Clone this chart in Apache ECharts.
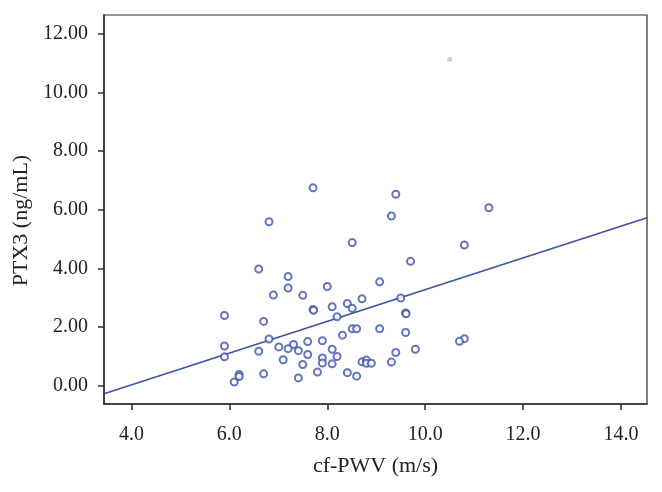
<!DOCTYPE html>
<html>
<head>
<meta charset="utf-8">
<script src="https://cdn.jsdelivr.net/npm/echarts@6/dist/echarts.min.js"></script>
<style>
  html, body { margin: 0; padding: 0; background: #fff; }
  #chart { width: 662px; height: 492px; }
</style>
</head>
<body>
<div id="chart"></div>
<script>
// cf-PWV (m/s) vs PTX3 (ng/mL)
const pwv = [
  7.71, 6.81, 8.51, 6.60, 7.20, 7.20, 8.00, 6.90, 7.50, 8.71,
  7.71, 7.72, 8.10, 8.41, 8.51, 8.20, 5.90, 6.70, 8.51, 8.60,
  9.07, 9.07, 8.31, 6.81, 7.90, 7.60, 5.90, 7.01, 7.31, 7.20,
  7.41, 6.60, 8.10, 7.60, 8.20, 7.90, 5.90, 7.10, 7.90, 7.50,
  8.10, 8.71, 8.80, 8.80, 8.90, 7.80, 8.41, 6.70, 8.60, 7.41,
  6.20, 6.20, 6.10, 9.40, 9.31, 11.30, 10.80, 9.70, 9.50, 9.60,
  9.61, 9.60, 10.80, 10.70, 9.80, 9.40, 9.31
];
const ptx3 = [
  6.75, 5.59, 4.88, 3.98, 3.72, 3.33, 3.38, 3.09, 3.08, 2.96,
  2.60, 2.57, 2.69, 2.80, 2.64, 2.35, 2.39, 2.19, 1.94, 1.94,
  1.94, 3.54, 1.72, 1.59, 1.53, 1.50, 1.35, 1.32, 1.40, 1.26,
  1.19, 1.17, 1.24, 1.06, 0.99, 0.94, 0.98, 0.88, 0.77, 0.72,
  0.74, 0.81, 0.87, 0.76, 0.76, 0.46, 0.44, 0.40, 0.32, 0.26,
  0.38, 0.31, 0.12, 6.53, 5.79, 6.07, 4.80, 4.24, 2.99, 2.48,
  2.45, 1.81, 1.60, 1.51, 1.24, 1.13, 0.80
];
// excluded case (grey dot)
const outlier = [[10.50, 11.14]];
// fitted line end points at the plot edges
const fitLine = [[3.44, -0.28], [14.53, 5.73]];

const xTicks = [4, 6, 8, 10, 12, 14];
const yTicks = [0, 2, 4, 6, 8, 10, 12];

const blue = '#3f52a8';
const axisColor = '#2b2b2b';
const font = '"Liberation Serif", "DejaVu Serif", serif';

const chart = echarts.init(document.getElementById('chart'));

const option = {
  animation: false,
  backgroundColor: '#fff',
  textStyle: { fontFamily: font },
  grid: {
    left: 104,
    right: 15,
    top: 15,
    bottom: 88,
    show: true,
    borderColor: axisColor,
    borderWidth: 1.2,
    backgroundColor: '#fff'
  },
  xAxis: {
    type: 'value',
    min: 3.44,
    max: 14.53,
    name: 'cf-PWV (m/s)',
    nameLocation: 'middle',
    nameGap: 51,
    nameTextStyle: { fontFamily: font, fontSize: 22, color: '#222' },
    splitLine: { show: false },
    axisLine: { onZero: false, lineStyle: { color: axisColor, width: 1.5 } },
    axisTick: { customValues: xTicks, length: 6, lineStyle: { color: axisColor, width: 1.5 } },
    axisLabel: {
      customValues: xTicks,
      margin: 21,
      fontFamily: font,
      fontSize: 20,
      color: '#222',
      formatter: v => v.toFixed(1)
    }
  },
  yAxis: {
    type: 'value',
    min: -0.63,
    max: 12.65,
    name: 'PTX3 (ng/mL)',
    nameLocation: 'middle',
    nameGap: 62,
    nameTextStyle: { fontFamily: font, fontSize: 22, color: '#222', padding: [0, 22, 0, 0] },
    splitLine: { show: false },
    axisLine: { onZero: false, lineStyle: { color: axisColor, width: 1.5 } },
    axisTick: { customValues: yTicks, length: 6, lineStyle: { color: axisColor, width: 1.5 } },
    axisLabel: {
      customValues: yTicks,
      margin: 16,
      fontFamily: font,
      fontSize: 20,
      color: '#222',
      formatter: v => v.toFixed(2)
    }
  },
  series: [
    {
      type: 'line',
      data: fitLine,
      showSymbol: false,
      symbol: 'none',
      lineStyle: { color: blue, width: 1.7 },
      z: 2
    },
    {
      type: 'scatter',
      data: pwv.map((x, i) => [x, ptx3[i]]),
      symbol: 'emptyCircle',
      symbolSize: 7,
      itemStyle: { color: blue, borderColor: blue, borderWidth: 1.6 },
      z: 3
    },
    {
      type: 'scatter',
      data: outlier,
      symbol: 'circle',
      symbolSize: 5,
      itemStyle: { color: '#c4c4c4' },
      z: 3
    }
  ]
};

chart.setOption(option);
</script>
</body>
</html>
